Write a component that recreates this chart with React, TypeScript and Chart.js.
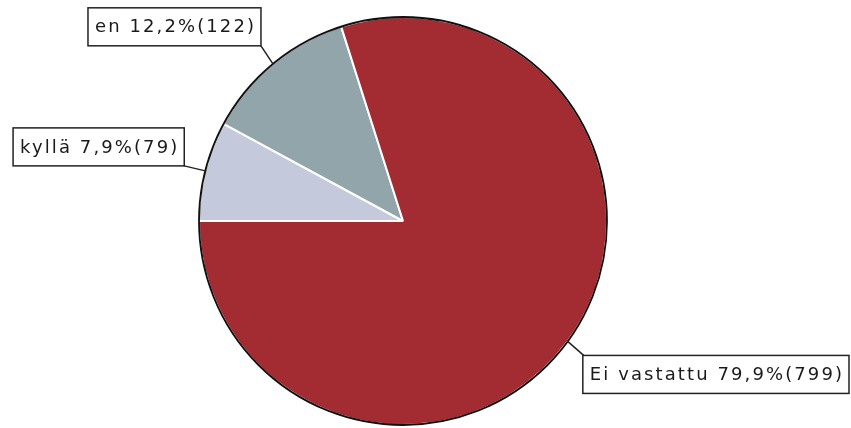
import React, { useEffect, useRef } from "react";
import { Chart, registerables } from "chart.js";

Chart.register(...registerables);

const categories = ["kyllä", "en", "Ei vastattu"];
const counts = [79, 122, 799];
const colors = ["#c4cadc", "#91a5aa", "#a22c32"];
// label box placement relative to the slice's outer mid-point: [dx, dy, corner]
const labelOffsets: [number, number, string][] = [
  [-21, -5, "br"],
  [-12, -18, "br"],
  [16, 14, "tl"],
];

const FONT = "18px 'DejaVu Sans'";
const LETTER = 2.1;
const BOX_H = 38;
const PAD_X = 7;

const labelPlugin = {
  id: "boxedLabels",
  afterDatasetsDraw(chart: any) {
    const ctx: CanvasRenderingContext2D = chart.ctx;
    const meta = chart.getDatasetMeta(0);
    const arcs = meta.data;
    if (!arcs.length) return;
    const cx = arcs[0].x;
    const cy = arcs[0].y;
    const r = arcs[0].outerRadius;
    // dark outer rim
    ctx.save();
    ctx.beginPath();
    ctx.arc(cx, cy, r, 0, Math.PI * 2);
    ctx.strokeStyle = "#111";
    ctx.lineWidth = 1.8;
    ctx.stroke();
    ctx.restore();

    const total = counts.reduce((a, b) => a + b, 0);
    arcs.forEach((arc: any, i: number) => {
      const mid = (arc.startAngle + arc.endAngle) / 2;
      const px = cx + Math.cos(mid) * r;
      const py = cy + Math.sin(mid) * r;
      const pct = ((counts[i] / total) * 100).toFixed(1).replace(".", ",");
      const text = `${categories[i]} ${pct}%(${counts[i]})`;
      ctx.save();
      ctx.font = FONT;
      (ctx as any).letterSpacing = LETTER + "px";
      const tw = ctx.measureText(text).width;
      const bw = tw + PAD_X * 2 - LETTER;
      const [dx, dy, corner] = labelOffsets[i];
      const ax = px + dx;
      const ay = py + dy;
      let bx = corner === "br" ? ax - bw : ax;
      let by = corner === "br" ? ay - BOX_H : ay;
      const W = chart.width;
      if (bx + bw > W - 2) bx = W - 2 - bw;
      ctx.beginPath();
      ctx.moveTo(px, py);
      ctx.lineTo(ax, ay);
      ctx.strokeStyle = "#222";
      ctx.lineWidth = 1.5;
      ctx.stroke();
      ctx.fillStyle = "#fff";
      ctx.fillRect(bx, by, bw, BOX_H);
      ctx.strokeRect(bx, by, bw, BOX_H);
      ctx.fillStyle = "#1a1a1a";
      ctx.textBaseline = "middle";
      ctx.textAlign = "left";
      ctx.fillText(text, bx + PAD_X, by + BOX_H / 2 + 1);
      ctx.restore();
    });
  },
};

export default function App() {
  const ref = useRef<HTMLCanvasElement>(null);
  useEffect(() => {
    document.body.style.margin = "0";
    const chart = new Chart(ref.current!, {
      type: "pie",
      data: {
        labels: categories,
        datasets: [
          {
            data: counts,
            backgroundColor: colors,
            borderColor: "#ffffff",
            borderWidth: 2,
          },
        ],
      },
      options: {
        responsive: false,
        animation: false,
        rotation: -90,
        layout: { padding: { left: 198, right: 243, top: 16, bottom: 2 } },
        plugins: { legend: { display: false }, tooltip: { enabled: false } },
      },
      plugins: [labelPlugin],
    });
    return () => chart.destroy();
  }, []);
  return (
    <div style={{ position: "absolute", left: 0, top: 0, width: 851, height: 428 }}>
      <canvas ref={ref} width={851} height={428} />
    </div>
  );
}
